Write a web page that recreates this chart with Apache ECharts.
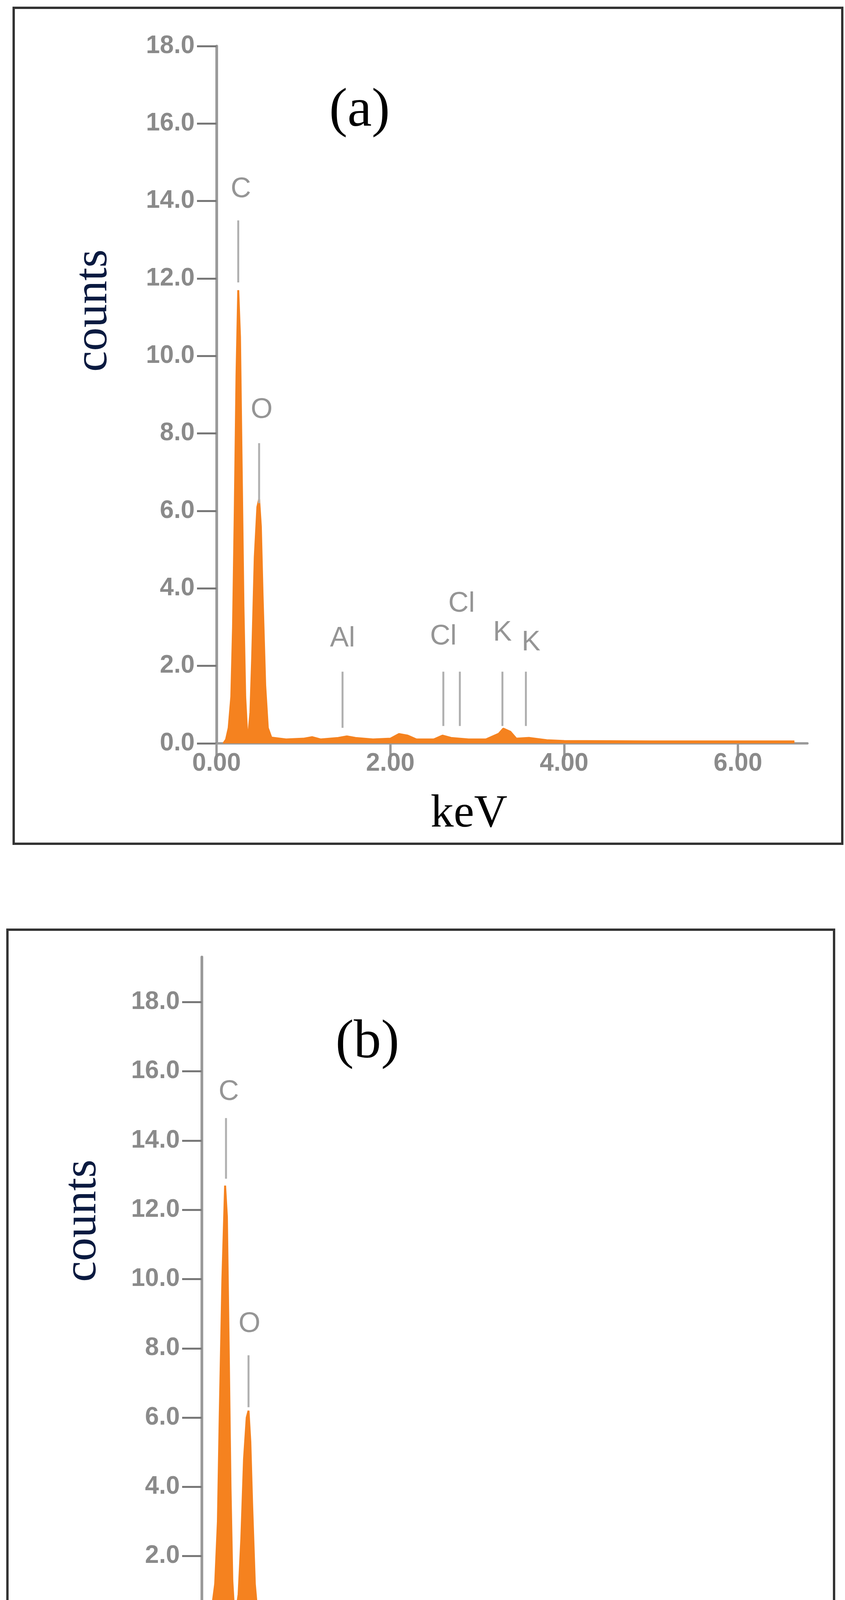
<!DOCTYPE html>
<html><head><meta charset="utf-8">
<script src="https://cdn.jsdelivr.net/npm/echarts@6/dist/echarts.min.js"></script>
<style>html,body{margin:0;background:#fff}#c{width:2162px;height:4562px}</style>
</head><body><div id="c"></div>
<script>
// Spectrum (a): [keV, counts]
const spectrumA = [[0.08,0],[0.11,0.1],[0.14,0.4],[0.17,1.2],[0.19,3],[0.21,6],[0.23,9.5],[0.25,11.7],[0.27,10.5],[0.29,7],[0.31,3.5],[0.33,1.2],[0.35,0.35],[0.37,0.3],[0.39,0.8],[0.41,2.2],[0.44,4.8],[0.47,6.1],[0.49,6.3],[0.51,5.6],[0.53,3.8],[0.56,1.5],[0.59,0.4],[0.63,0.15],[0.8,0.1],[1.0,0.12],[1.1,0.16],[1.2,0.1],[1.4,0.14],[1.5,0.18],[1.6,0.14],[1.8,0.1],[2.0,0.12],[2.1,0.24],[2.2,0.2],[2.3,0.1],[2.5,0.1],[2.6,0.2],[2.7,0.14],[2.9,0.1],[3.1,0.1],[3.25,0.25],[3.3,0.38],[3.38,0.3],[3.45,0.12],[3.6,0.14],[3.8,0.08],[4.0,0.06],[5.0,0.05],[6.0,0.05],[6.65,0.05]];
// Spectrum (b): [keV, counts]
const spectrumB = [[0.02,0],[0.07,0.1],[0.11,0.4],[0.15,1.2],[0.18,3],[0.20,6],[0.23,10],[0.26,12.7],[0.28,11.8],[0.30,8],[0.32,4],[0.34,1.3],[0.36,0.4],[0.38,0.3],[0.41,0.9],[0.44,2.5],[0.47,4.8],[0.50,6.0],[0.52,6.2],[0.54,5.3],[0.56,3.5],[0.59,1.2],[0.62,0.3],[0.66,0.12],[0.8,0.1],[1.0,0.1],[1.5,0.14],[1.8,0.1],[2.0,0.18],[2.2,0.16],[2.4,0.1],[3.0,0.06],[3.8,0.07],[4.0,0.04],[5.0,0.03],[6.0,0.03],[6.81,0.03]];
// Element marker lines: [keV, yBottom, yTop]
const markersA = [[0.25,11.9,13.5],[0.49,6.2,7.75],[1.45,0.4,1.85],[2.61,0.45,1.85],[2.80,0.45,1.85],[3.29,0.45,1.85],[3.56,0.45,1.85]];
const markersB = [[0.27,12.9,14.65],[0.52,6.3,7.8]];
// Element labels: [keV, counts, text]
const labelsA = [[0.28,14.3,'C'],[0.52,8.6,'O'],[1.45,2.7,'Al'],[2.61,2.75,'Cl'],[2.82,3.6,'Cl'],[3.29,2.85,'K'],[3.62,2.6,'K']];
const labelsB = [[0.30,15.4,'C'],[0.53,8.7,'O']];

const orange = '#f5821f', grey = '#9a9a9a';
function axes(i, ymax){
  return {
    x: {type:'value', gridIndex:i, min:0, max:6.8, interval:2,
      axisLine:{show:true,lineStyle:{color:grey,width:6}},
      axisTick:{show:true,length:42,lineStyle:{color:grey,width:6}},
      axisLabel:{showMaxLabel:false,formatter:v=>v.toFixed(2),color:'#8a8a8a',fontFamily:'Liberation Sans',fontWeight:'bold',fontSize:64,margin:20},
      splitLine:{show:false}},
    y: {type:'value', gridIndex:i, min:0, max:ymax, interval:2,
      axisLine:{show:true,lineStyle:{color:grey,width:7}},
      axisTick:{show:true,length:50,lineStyle:{color:'#777',width:5}},
      axisLabel:{showMaxLabel:ymax===18,formatter:v=>v.toFixed(1),color:'#8a8a8a',fontFamily:'Liberation Sans',fontWeight:'bold',fontSize:64,margin:56},
      splitLine:{show:false}}
  };
}
const a0 = axes(0,18), a1 = axes(1,19.3);
function markerSeries(list, gi){
  return list.map(m=>({type:'line',xAxisIndex:gi,yAxisIndex:gi,data:[[m[0],m[1]],[m[0],m[2]]],symbol:'none',lineStyle:{color:'#b0b0b0',width:5},z:3}));
}
function labelSeries(list, gi){
  return {type:'scatter',xAxisIndex:gi,yAxisIndex:gi,symbolSize:1,itemStyle:{color:'rgba(0,0,0,0)'},
    data:list.map(l=>({value:[l[0],l[1]],label:{show:true,formatter:l[2],position:'inside',color:'#7a7a7a',fontFamily:'Liberation Sans',fontSize:72}})),z:4};
}
const chart = echarts.init(document.getElementById('c'));
chart.setOption({
  animation:false,
  grid:[{left:554,top:118,width:1334*6.8/6,height:1785},{left:516,top:2450,width:1383*6.8/6,height:1711}],
  xAxis:[a0.x,a1.x], yAxis:[a0.y,a1.y],
  series:[
    {type:'line',xAxisIndex:0,yAxisIndex:0,data:spectrumA,symbol:'none',lineStyle:{color:orange,width:5},areaStyle:{color:orange,opacity:1},z:2},
    {type:'line',xAxisIndex:1,yAxisIndex:1,data:spectrumB,symbol:'none',lineStyle:{color:orange,width:5},areaStyle:{color:orange,opacity:1},z:2},
    ...markerSeries(markersA,0), ...markerSeries(markersB,1),
    labelSeries(labelsA,0), labelSeries(labelsB,1)
  ],
  graphic:[
    {type:'rect',shape:{x:35,y:20,width:2120,height:2140},style:{fill:'none',stroke:'#333',lineWidth:6}},
    {type:'rect',shape:{x:19,y:2380,width:2115,height:2066},style:{fill:'none',stroke:'#333',lineWidth:6}},
    {type:'text',x:920,y:285,style:{text:'(a)',font:'140px "Liberation Serif"',fill:'#000',textAlign:'center',textVerticalAlign:'middle'}},
    {type:'text',x:940,y:2670,style:{text:'(b)',font:'140px "Liberation Serif"',fill:'#000',textAlign:'center',textVerticalAlign:'middle'}},
    {type:'text',x:240,y:795,rotation:Math.PI/2,style:{text:'counts',font:'120px "Liberation Serif"',fill:'#0a1a40',textAlign:'center',textVerticalAlign:'middle'}},
    {type:'text',x:212,y:3125,rotation:Math.PI/2,style:{text:'counts',font:'120px "Liberation Serif"',fill:'#0a1a40',textAlign:'center',textVerticalAlign:'middle'}},
    {type:'text',x:1200,y:2085,style:{text:'keV',font:'118px "Liberation Serif"',fill:'#000',textAlign:'center',textVerticalAlign:'middle'}},
    {type:'text',x:1180,y:4370,style:{text:'keV',font:'118px "Liberation Serif"',fill:'#000',textAlign:'center',textVerticalAlign:'middle'}}
  ]
});
</script></body></html>
